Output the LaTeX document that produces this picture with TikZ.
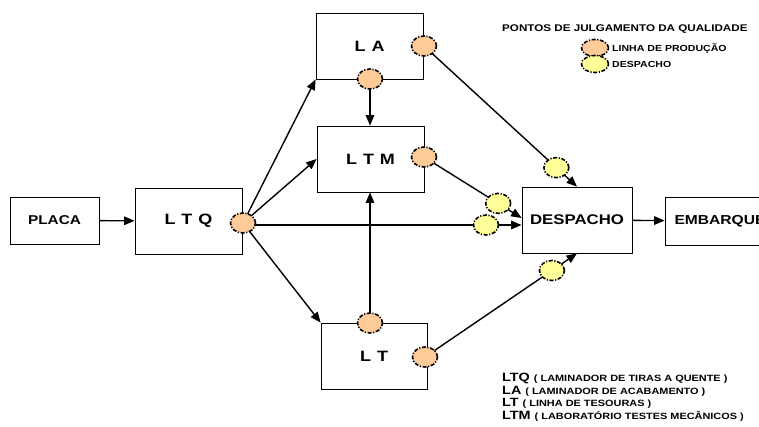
\documentclass[tikz,border=0pt]{standalone}
\usepackage{fontspec}
\setmainfont{Liberation Sans}[FakeStretch=1.2]
\usetikzlibrary{arrows.meta,shapes.geometric,calc}
\pgfdeclarelayer{bg}
\pgfsetlayers{bg,main}
\definecolor{qorange}{HTML}{FFCC99}
\definecolor{qyellow}{HTML}{FFFF99}
\newcommand{\fs}[1]{\fontsize{#1}{#1}\selectfont}
\newcommand{\lsp}{\hspace{6pt}}

\begin{document}
\begin{tikzpicture}[x=1pt,y=-1pt,
  stage/.style={draw, line width=0.8pt, inner sep=0pt, font=\bfseries\fs{15}},
  qmark/.style={ellipse, draw, line width=1.6pt,
    dash pattern=on 4pt off 1.6pt on 1.2pt off 1.6pt,
    inner sep=0pt, minimum width=25pt, minimum height=20pt},
  qline/.style={qmark, fill=qorange},
  qdisp/.style={qmark, fill=qyellow},
  flow/.style={line width=1.4pt, -{Triangle[length=10.5pt,width=8.5pt]}},
  note/.style={anchor=base west, inner sep=0pt},
]
\useasboundingbox (0,0) rectangle (759,426);

% process stages
\node[stage, minimum width=89pt, minimum height=47pt, font=\bfseries\fs{12.8}] (placa) at (54.5,220.5) {PLACA};
\node[stage, minimum width=107pt, minimum height=66pt] (ltq) at (188.5,221) {L\lsp T\lsp Q};
\node[stage, minimum width=107pt, minimum height=66pt] (la)  at (369.5,46) {L\lsp A};
\node[stage, minimum width=107pt, minimum height=66pt] (ltm) at (370.5,159) {L\lsp T\lsp M};
\node[stage, minimum width=106pt, minimum height=66pt] (lt)  at (374,356) {L\lsp T};
\node[stage, minimum width=110pt, minimum height=66pt, font=\bfseries\fs{14}] (desp) at (577,220) {DESPACHO};
\node[stage, minimum width=110pt, minimum height=48pt, font=\bfseries\fs{13}] (emb) at (720,221) {EMBARQUE};

% quality checkpoints on the production line
\node[qline] (ltqC) at (243,223) {};
\node[qline] (laR)  at (424,46) {};
\node[qline] (laB)  at (370,79) {};
\node[qline] (ltmR) at (424,157) {};
\node[qline] (ltR)  at (425,357) {};
\node[qline] (ltT)  at (370,323) {};

% arrival points on the dispatch box
\coordinate (d2) at ([yshift=2pt]desp.west);
\coordinate (d3) at ([yshift=-5pt]desp.west);

% dispatch checkpoints
\node[qdisp] (y1) at ($(laR.center)!0.865!(desp.north)$) {};
\node[qdisp] (y2) at ($(ltmR.center)!0.76!(d2)$) {};
\node[qdisp] (y3) at (486,225) {};
\node[qdisp] (y4) at ($(ltR.center)!0.835!(desp.south)$) {};

\begin{pgfonlayer}{bg}
  \draw[flow] (placa) -- (ltq);
  \draw[flow] (ltqC.center) -- (la.south west);
  \draw[flow] (ltqC.center) -- (ltm.west);
  \draw[flow] (ltqC.center) -- (lt.north west);
  \draw[flow] (ltqC.center |- d3) -- (y3.center) -- (d3);
  \draw[flow] (laB.center) -- (laB.center |- ltm.north);
  \draw[flow] (ltT.center) -- (ltT.center |- ltm.south);
  \draw[flow] (laR.center) -- (y1.center) -- (desp.north);
  \draw[flow] (ltmR.center) -- (y2.center) -- (d2);
  \draw[flow] (ltR.center) -- (y4.center) -- (desp.south);
  \draw[flow] (desp) -- (emb);
\end{pgfonlayer}

% legend of checkpoints
\node[anchor=west, inner sep=0pt, font=\bfseries\fs{9.7}] (ttl) at (502,29) {PONTOS DE JULGAMENTO DA QUALIDADE};
\node[qline, minimum width=27pt, minimum height=17pt] (kL) at (595,48) {};
\node[anchor=west, inner sep=0pt, font=\bfseries\fs{8.8}] (kLt) at (612,48) {LINHA DE PRODUÇÃO};
\node[qdisp, minimum width=27pt, minimum height=17pt] (kD) at (595,64) {};
\node[anchor=west, inner sep=0pt, font=\bfseries\fs{8.8}] (kDt) at (612,64) {DESPACHO};

% abbreviations
\node[note] (n1) at (502,381) {\bfseries\fs{12}LTQ \fs{9.1}( LAMINADOR DE TIRAS A QUENTE )};
\node[note] (n2) at (502,394) {\bfseries\fs{12}LA \fs{9.1}( LAMINADOR DE ACABAMENTO )};
\node[note] (n3) at (502,406) {\bfseries\fs{12}LT \fs{9.1}( LINHA DE TESOURAS )};
\node[note] (n4) at (502,419) {\bfseries\fs{12}LTM \fs{9.1}( LABORATÓRIO TESTES MECÂNICOS )};
\end{tikzpicture}
\end{document}
